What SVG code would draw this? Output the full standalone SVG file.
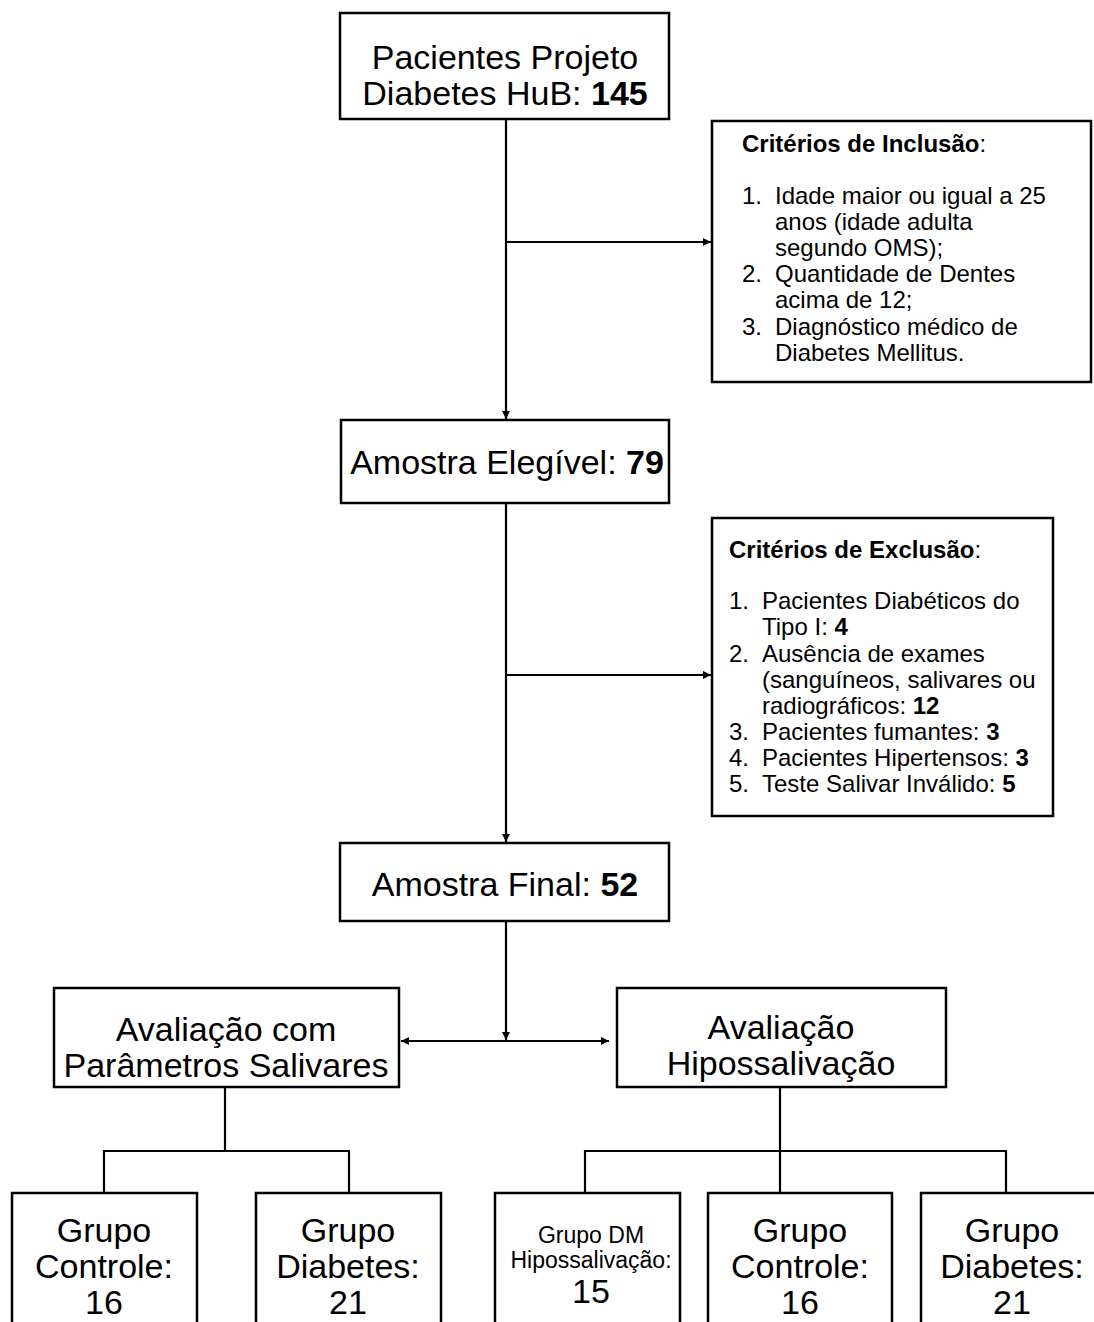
<svg xmlns="http://www.w3.org/2000/svg" width="1094" height="1322" viewBox="0 0 1094 1322">
<defs>
<marker id="ah" viewBox="0 0 10 10" refX="10" refY="5" markerWidth="8" markerHeight="8" orient="auto-start-reverse" markerUnits="userSpaceOnUse">
<path d="M0,0 L10,5 L0,10 z" fill="#000"/>
</marker>
<style>
.box{fill:#fff;stroke:#000;stroke-width:2.5}
.t{font-family:"Liberation Sans",Arial,sans-serif;fill:#000}
.big{font-size:34px}
.mid{font-size:24px}
.sm{font-size:23px}
.b{font-weight:bold}
.c{text-anchor:middle}
.ln{stroke:#000;stroke-width:2.2;fill:none}
</style>
</defs>
<rect width="1094" height="1322" fill="#fff"/>

<g id="connectors">
<line class="ln" x1="506" y1="120" x2="506" y2="419" marker-end="url(#ah)"/>
<line class="ln" x1="506" y1="242" x2="711" y2="242" marker-end="url(#ah)"/>
<line class="ln" x1="506" y1="503" x2="506" y2="842" marker-end="url(#ah)"/>
<line class="ln" x1="506" y1="675" x2="711" y2="675" marker-end="url(#ah)"/>
<line class="ln" x1="506" y1="921" x2="506" y2="1040" marker-end="url(#ah)"/>
<line class="ln" x1="401" y1="1041" x2="609" y2="1041" marker-start="url(#ah)" marker-end="url(#ah)"/>
<path class="ln" d="M225,1087 V1151 M104,1193 V1151 H349 V1193"/>
<path class="ln" d="M780,1087 V1193 M585,1193 V1151 H1006 V1193"/>
</g>

<g id="n-pacientes">
<rect class="box" x="340" y="13" width="329" height="106"/>
<text class="t big c" x="505" y="69">Pacientes Projeto</text>
<text class="t big c" x="505" y="105">Diabetes HuB: <tspan class="b">145</tspan></text>
</g>

<g id="n-inclusao">
<rect class="box" x="712" y="121" width="379" height="261"/>
<text class="t mid" x="742" y="152"><tspan class="b">Critérios de Inclusão</tspan>:</text>
<text class="t mid" x="742" y="204">1.</text>
<text class="t mid" x="775" y="204">Idade maior ou igual a 25</text>
<text class="t mid" x="775" y="230">anos (idade adulta</text>
<text class="t mid" x="775" y="256">segundo OMS);</text>
<text class="t mid" x="742" y="282">2.</text>
<text class="t mid" x="775" y="282">Quantidade de Dentes</text>
<text class="t mid" x="775" y="308">acima de 12;</text>
<text class="t mid" x="742" y="335">3.</text>
<text class="t mid" x="775" y="335">Diagnóstico médico de</text>
<text class="t mid" x="775" y="361">Diabetes Mellitus.</text>
</g>

<g id="n-elegivel">
<rect class="box" x="341" y="420" width="328" height="83"/>
<text class="t big c" x="507" y="474">Amostra Elegível: <tspan class="b">79</tspan></text>
</g>

<g id="n-exclusao">
<rect class="box" x="712" y="518" width="341" height="298"/>
<text class="t mid" x="729" y="558"><tspan class="b">Critérios de Exclusão</tspan>:</text>
<text class="t mid" x="729" y="609">1.</text>
<text class="t mid" x="762" y="609">Pacientes Diabéticos do</text>
<text class="t mid" x="762" y="635">Tipo I: <tspan class="b">4</tspan></text>
<text class="t mid" x="729" y="662">2.</text>
<text class="t mid" x="762" y="662">Ausência de exames</text>
<text class="t mid" x="762" y="688">(sanguíneos, salivares ou</text>
<text class="t mid" x="762" y="714">radiográficos: <tspan class="b">12</tspan></text>
<text class="t mid" x="729" y="740">3.</text>
<text class="t mid" x="762" y="740">Pacientes fumantes: <tspan class="b">3</tspan></text>
<text class="t mid" x="729" y="766">4.</text>
<text class="t mid" x="762" y="766">Pacientes Hipertensos: <tspan class="b">3</tspan></text>
<text class="t mid" x="729" y="792">5.</text>
<text class="t mid" x="762" y="792">Teste Salivar Inválido: <tspan class="b">5</tspan></text>
</g>

<g id="n-final">
<rect class="box" x="340" y="843" width="329" height="78"/>
<text class="t big c" x="505" y="896">Amostra Final: <tspan class="b">52</tspan></text>
</g>

<g id="n-parametros">
<rect class="box" x="54" y="988" width="345" height="99"/>
<text class="t big c" x="226" y="1041">Avaliação com</text>
<text class="t big c" x="226" y="1077">Parâmetros Salivares</text>
</g>

<g id="n-hipossalivacao">
<rect class="box" x="617" y="988" width="329" height="99"/>
<text class="t big c" x="781" y="1039">Avaliação</text>
<text class="t big c" x="781" y="1075">Hipossalivação</text>
</g>

<g id="n-controle1">
<rect class="box" x="12" y="1193" width="185" height="140"/>
<text class="t big c" x="104" y="1242">Grupo</text>
<text class="t big c" x="104" y="1278">Controle:</text>
<text class="t big c" x="104" y="1314">16</text>
</g>

<g id="n-diabetes1">
<rect class="box" x="256" y="1193" width="185" height="140"/>
<text class="t big c" x="348" y="1242">Grupo</text>
<text class="t big c" x="348" y="1278">Diabetes:</text>
<text class="t big c" x="348" y="1314">21</text>
</g>

<g id="n-dm-hipo">
<rect class="box" x="495" y="1193" width="185" height="140"/>
<text class="t sm c" x="591" y="1243">Grupo DM</text>
<text class="t sm c" x="591" y="1268">Hipossalivação:</text>
<text class="t big c" x="591" y="1303">15</text>
</g>

<g id="n-controle2">
<rect class="box" x="708" y="1193" width="184" height="140"/>
<text class="t big c" x="800" y="1242">Grupo</text>
<text class="t big c" x="800" y="1278">Controle:</text>
<text class="t big c" x="800" y="1314">16</text>
</g>

<g id="n-diabetes2">
<rect class="box" x="921" y="1193" width="185" height="140"/>
<text class="t big c" x="1012" y="1242">Grupo</text>
<text class="t big c" x="1012" y="1278">Diabetes:</text>
<text class="t big c" x="1012" y="1314">21</text>
</g>
</svg>
